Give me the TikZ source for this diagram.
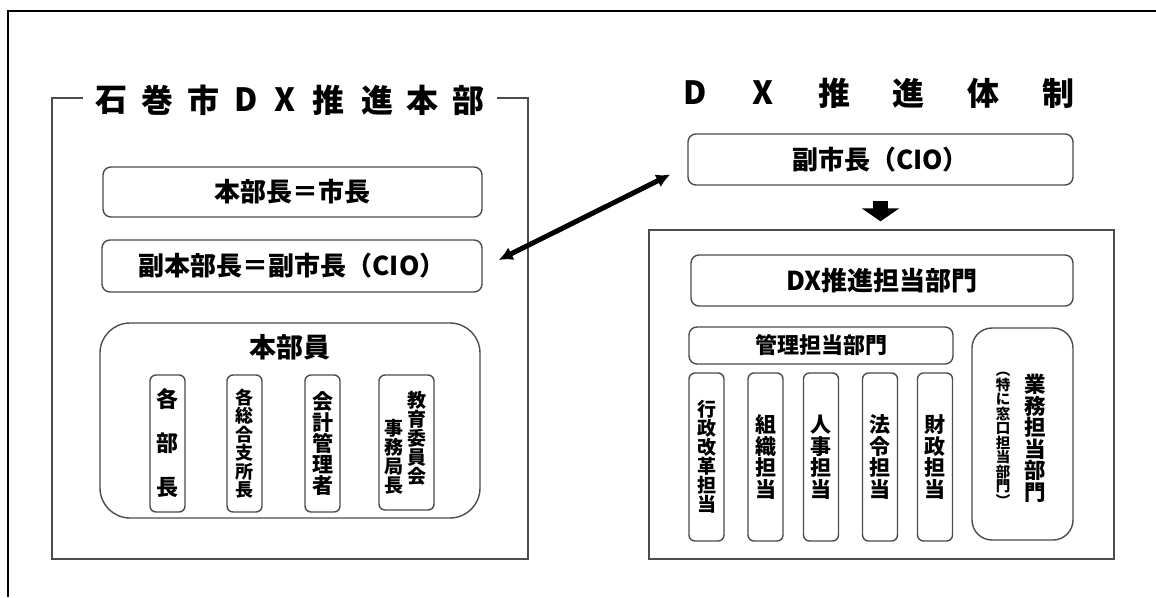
\documentclass[tikz,border=0pt]{standalone}
\usepackage{fontspec}
\setmainfont{Noto Sans CJK JP}
\usetikzlibrary{arrows.meta}

\begin{document}
\begin{tikzpicture}[x=1pt, y=-1pt,
    frameline/.style={draw=black!70, line width=1.4pt},
    box/.style={draw=black!70, line width=1.4pt, rounded corners=8pt, inner sep=0pt, font=\bfseries\fontsize{26}{26}\selectfont},
    vbox/.style={draw=black!70, line width=1.4pt, rounded corners=6pt, inner sep=0pt, minimum width=35pt},
    vtext/.style 2 args={font=\bfseries\fontsize{#1}{#2}\selectfont, align=center, inner sep=0pt},
    titlechar/.style={font=\bfseries\fontsize{32}{32}\selectfont, inner sep=0pt}]

    \useasboundingbox (0,0) rectangle (1156,597);

    % outer frame
    \draw[line width=2.5pt] (1156,11) -- (8,11) -- (8,597);

    % headquarters frame
    \draw[frameline] (83,98) -- (52,98) -- (52,559) -- (528,559) -- (528,98) -- (497,98);
    \foreach \x/\c [count=\i] in {111/石,157/巻,203/市,246/D,285/X,328/推,377/進,422/本,468/部}
        \node[titlechar] (hq\i) at (\x,100) {\c};

    % headquarters
    \node[box, minimum width=379pt, minimum height=50pt] (chief) at (292.5,192) {本部長＝市長};
    \node[box, minimum width=380pt, minimum height=52pt] (deputy) at (292,266) {副本部長＝副市長（CIO）};

    % members
    \node[box, rounded corners=30pt, minimum width=380pt, minimum height=195pt] (members) at (290,420.5) {};
    \node[vtext={27}{27}] (memberstitle) at (290,347) {本部員};
    \node[vbox, minimum height=137pt, vtext={22}{44}] (kakubu) at (167.5,443.5) {各\\部\\長};
    \node[vbox, minimum height=137pt, vtext={18}{18.5}] (shisho) at (244.5,443.5) {各\\総\\合\\支\\所\\長};
    \node[vbox, minimum height=137pt, vtext={21}{21.2}] (kaikei) at (322.5,443.5) {会\\計\\管\\理\\者};
    \node[vbox, minimum width=55pt, minimum height=135pt] (kyoiku) at (406.5,442.5) {};
    \node[vtext={19}{19}] (kyoiku1) at (417,438) {教\\育\\委\\員\\会};
    \node[vtext={19}{19}] (kyoiku2) at (394,456.5) {事\\務\\局\\長};

    % promotion system
    \foreach \x/\c [count=\i] in {695/D,763/X,834/推,908/進,983/体,1058/制}
        \node[titlechar] (dx\i) at (\x,93) {\c};
    \node[box, minimum width=385pt, minimum height=51pt] (vice) at (880.5,159.5) {副市長（CIO）};
    \node[frameline, inner sep=0pt, minimum width=465pt, minimum height=329pt] (dxframe) at (881.5,394.5) {};
    \node[box, minimum width=382pt, minimum height=51pt] (dxdept) at (882,280.5) {DX推進担当部門};

    % management
    \node[box, minimum width=264pt, minimum height=37pt, font=\bfseries\fontsize{22}{22}\selectfont] (kanri) at (821,345.5) {管理担当部門};
    \node[vbox, minimum height=168pt, vtext={19}{19}] (gyosei) at (706.5,457) {行\\政\\改\\革\\担\\当};
    \node[vbox, minimum height=168pt, vtext={21}{21.5}] (soshiki) at (765.5,457) {組\\織\\担\\当};
    \node[vbox, minimum height=168pt, vtext={21}{21.5}] (jinji) at (821,457) {人\\事\\担\\当};
    \node[vbox, minimum height=168pt, vtext={21}{21.5}] (horei) at (880,457) {法\\令\\担\\当};
    \node[vbox, minimum height=168pt, vtext={21}{21.5}] (zaisei) at (935,457) {財\\政\\担\\当};

    % business
    \node[box, rounded corners=20pt, minimum width=101pt, minimum height=212pt] (gyomu) at (1022.5,434) {};
    \node[vtext={21.5}{21.5}] (gyomu1) at (1035,438.5) {業\\務\\担\\当\\部\\門};
    \node[vtext={14.5}{14.5}] (gyomu2) at (1003,439.5) {︵\\特\\に\\窓\\口\\担\\当\\部\\門\\︶};

    % arrows
    \draw[line width=5pt, {Latex[length=14pt,width=14pt]}-{Latex[length=14pt,width=14pt]}] ([shift={(16,-6)}]deputy.east) -- ([shift={(-17,15)}]vice.west);
    \draw[line width=15pt, -{Triangle[length=13pt,width=37pt]}, shorten <=15pt, shorten >=8pt] (vice.south) -- (vice.south |- dxframe.north);
\end{tikzpicture}
\end{document}
